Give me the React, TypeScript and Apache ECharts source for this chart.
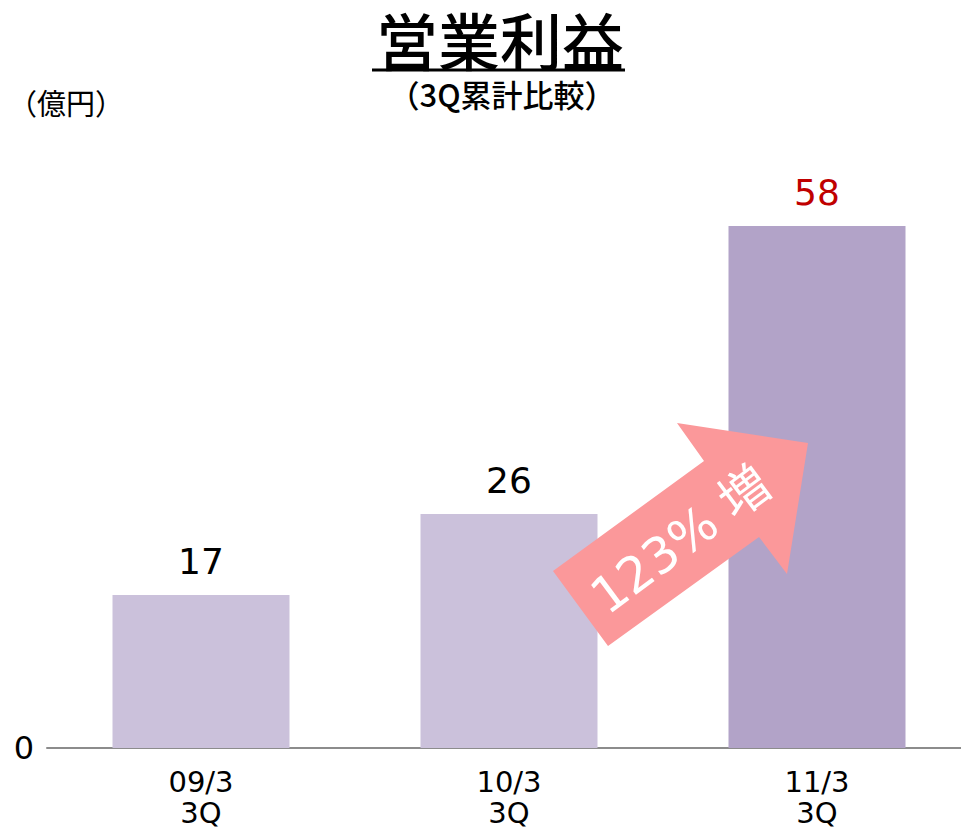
import React, { useEffect, useRef } from "react";
import * as echarts from "echarts";

const categories = ["09/3\n3Q", "10/3\n3Q", "11/3\n3Q"];
const values = [17, 26, 58];
const barColors = ["#CBC1DB", "#CBC1DB", "#B2A3C8"];
const labelColors = ["#000000", "#000000", "#C00000"];
const titleText = "営業利益";
const subtitleText = "（3Q累計比較）";
const unitText = "（億円）";
const arrowText = "123% 増";

const CJK = '"Noto Sans CJK JP", "Noto Sans", sans-serif';
const LATIN = '"DejaVu Sans", "Noto Sans CJK JP", sans-serif';

export default function App() {
  const ref = useRef<HTMLDivElement>(null);
  useEffect(() => {
    if (!ref.current) return;
    const chart = echarts.init(ref.current, null, { renderer: "svg" });
    chart.setOption({
      animation: false,
      backgroundColor: "#ffffff",
      textStyle: { fontFamily: LATIN },
      grid: { left: 47, right: 0, top: 208, bottom: 81, containLabel: false },
      xAxis: {
        type: "category",
        data: categories,
        axisLine: { show: true, lineStyle: { color: "#8C8C8C", width: 2 } },
        axisTick: { show: false },
        axisLabel: {
          color: "#000",
          fontSize: 29,
          lineHeight: 31,
          margin: 18,
          fontFamily: LATIN,
        },
      },
      yAxis: {
        type: "value",
        min: 0,
        max: 60,
        interval: 60,
        splitLine: { show: false },
        axisLine: { show: false },
        axisTick: { show: false },
        axisLabel: {
          color: "#000",
          fontSize: 32,
          margin: 13,
          fontFamily: LATIN,
          formatter: (v: number) => (v === 0 ? "0" : ""),
        },
      },
      series: [
        {
          type: "bar",
          barWidth: 177,
          data: values.map((v, i) => ({
            value: v,
            itemStyle: { color: barColors[i] },
            label: { color: labelColors[i] },
          })),
          label: {
            show: true,
            position: "top",
            distance: 16,
            fontSize: 36,
            fontFamily: LATIN,
          },
        },
      ],
      graphic: [
        {
          type: "text",
          x: 500,
          y: 39,
          z: 100,
          style: {
            text: titleText,
            fill: "#000",
            fontSize: 62,
            fontWeight: 500,
            fontFamily: CJK,
            align: "center",
            verticalAlign: "middle",
          },
        },
        {
          type: "line",
          z: 100,
          shape: { x1: 372, y1: 70, x2: 625, y2: 70 },
          style: { stroke: "#000", lineWidth: 3 },
        },
        {
          type: "text",
          x: 502,
          y: 93,
          z: 100,
          style: {
            text: subtitleText,
            fill: "#000",
            fontSize: 31,
            fontWeight: 500,
            fontFamily: CJK,
            align: "center",
            verticalAlign: "middle",
          },
        },
        {
          type: "text",
          x: 66,
          y: 102,
          z: 100,
          style: {
            text: unitText,
            fill: "#000",
            fontSize: 29,
            fontFamily: CJK,
            align: "center",
            verticalAlign: "middle",
          },
        },
        {
          type: "polygon",
          z: 100,
          shape: {
            points: [
              [553, 571],
              [704, 461],
              [677, 423],
              [808, 443],
              [787, 574],
              [759, 537],
              [608, 646],
            ],
          },
          style: { fill: "#FB989A" },
        },
        {
          type: "text",
          x: 681,
          y: 540,
          z: 101,
          rotation: 0.64,
          style: {
            text: arrowText,
            fill: "#ffffff",
            fontSize: 50,
            fontFamily: LATIN,
            align: "center",
            verticalAlign: "middle",
          },
        },
      ],
    });
    return () => chart.dispose();
  }, []);
  return (
    <div style={{ position: "absolute", left: 0, top: 0, width: 961, height: 829, overflow: "hidden" }}>
      <div ref={ref} style={{ width: 971, height: 829 }} />
    </div>
  );
}
